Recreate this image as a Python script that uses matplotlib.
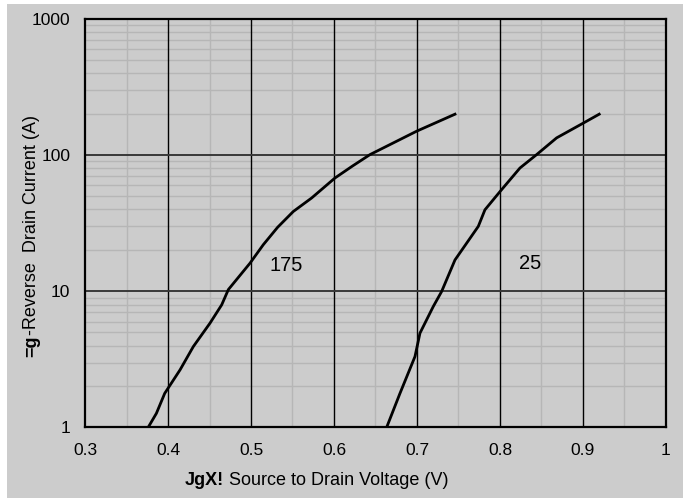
import matplotlib
matplotlib.use("Agg")
import matplotlib.pyplot as plt
import numpy as np
from matplotlib.ticker import LogLocator, FixedLocator, NullFormatter

plt.rcParams['font.family'] = ['Liberation Sans', 'DejaVu Sans']

# Data
v_175 = [0.376, 0.386, 0.396, 0.4145, 0.4305, 0.4506, 0.4647, 0.4727, 0.4988,
         0.5148, 0.532, 0.551, 0.5731, 0.6012, 0.622, 0.6434, 0.6996, 0.7458]
i_175 = [1.0, 1.27, 1.78, 2.65, 3.93, 5.84, 7.96, 10.3, 16.1,
         22.0, 29.5, 38.6, 48.5, 68.0, 83.0, 101.0, 150.0, 200.0]
v_25 = [0.6634, 0.6795, 0.6976, 0.7036, 0.7196, 0.7297, 0.7458, 0.7739, 0.7819,
        0.8, 0.8241, 0.8442, 0.8683, 0.9004, 0.9196]
i_25 = [1.0, 1.78, 3.32, 4.93, 7.73, 9.97, 17.0, 30.0, 39.7,
        54.0, 80.5, 101.0, 134.0, 172.0, 200.0]
curve_labels = ["175", "25"]
label_pos = [(0.542, 15.5), (0.836, 15.9)]
x_ticks = [0.3, 0.4, 0.5, 0.6, 0.7, 0.8, 0.9, 1.0]
x_ticklabels = ["0.3", "0.4", "0.5", "0.6", "0.7", "0.8", "0.9", "1"]
y_ticks = [1, 10, 100, 1000]
y_ticklabels = ["1", "10", "100", "1000"]

bg = "#cccccc"
fig = plt.figure(figsize=(6.83, 4.98), dpi=100, facecolor=bg)
ax = fig.add_axes([0.1245, 0.1416, 0.975 - 0.1245, 0.9618 - 0.1416])
ax.set_facecolor(bg)
ax.set_yscale('log')
ax.set_xlim(0.3, 1.0)
ax.set_ylim(1, 1000)

# grids
ax.xaxis.set_minor_locator(FixedLocator(np.arange(0.35, 1.0, 0.1)))
ax.yaxis.set_minor_locator(LogLocator(base=10, subs=np.arange(2, 10)))
ax.yaxis.set_minor_formatter(NullFormatter())
ax.grid(which='minor', color='#b6b6b6', linewidth=1.0)
for xv in x_ticks[1:-1]:
    ax.axvline(xv, color='black', linewidth=1.0, zorder=1.5)
for yv in [10, 100]:
    ax.axhline(yv, color='#383838', linewidth=1.4, zorder=1.5)
ax.set_axisbelow(True)

ax.plot(v_175, i_175, color='black', linewidth=2.0, zorder=3,
        solid_joinstyle='round')
ax.plot(v_25, i_25, color='black', linewidth=2.0, zorder=3,
        solid_joinstyle='round')
for lab, (xp, yp) in zip(curve_labels, label_pos):
    ax.text(xp, yp, lab, fontsize=14.5, ha='center', va='center', zorder=4)

ax.set_xticks(x_ticks)
ax.set_xticklabels(x_ticklabels, fontsize=12.5)
ax.set_yticks(y_ticks)
ax.set_yticklabels(y_ticklabels, fontsize=12.5)
ax.tick_params(axis='both', which='both', length=0)
ax.tick_params(axis='x', pad=11)
ax.tick_params(axis='y', pad=10.5)
for s in ax.spines.values():
    s.set_linewidth(1.6)
    s.set_color('black')

# white border strips at figure edge
fig.patches.append(plt.Rectangle((0, 0), 7 / 683, 1, transform=fig.transFigure,
                                 facecolor='white', edgecolor='none', zorder=0))
fig.patches.append(plt.Rectangle((0, 1 - 4 / 498), 1, 4 / 498, transform=fig.transFigure,
                                 facecolor='white', edgecolor='none', zorder=0))

# axis labels with bold prefix
fig.canvas.draw()
r = fig.canvas.get_renderer()
fs = 13
# x label (centred at ~317 px from left)
xl_y = 0.026
t1 = fig.text(0, xl_y, "JgX!", fontsize=fs, fontweight='bold', ha='left', va='baseline')
t2 = fig.text(0, xl_y, " Source to Drain Voltage (V)", fontsize=fs, ha='left', va='baseline')
w1 = t1.get_window_extent(r).width
w2 = t2.get_window_extent(r).width
cx = 317.0
x0 = cx - (w1 + w2) / 2
t1.set_x(x0 / fig.bbox.width)
t2.set_x((x0 + w1) / fig.bbox.width)
# y label (rotated, centred at ~236 px from top)
yl_x = 0.046
u1 = fig.text(yl_x, 0, "=g", fontsize=fs, fontweight='bold', rotation=90, ha='center', va='bottom')
u2 = fig.text(yl_x, 0, "-Reverse  Drain Current (A)", fontsize=fs, rotation=90, ha='center', va='bottom')
h1 = u1.get_window_extent(r).height
h2 = u2.get_window_extent(r).height
cy = fig.bbox.height - 236.0
y0 = cy - (h1 + h2) / 2
u1.set_y(y0 / fig.bbox.height)
u2.set_y((y0 + h1) / fig.bbox.height)

fig.savefig("out.png", dpi=100, facecolor=bg)
